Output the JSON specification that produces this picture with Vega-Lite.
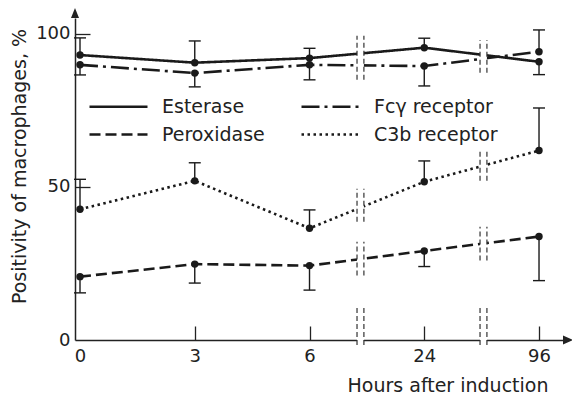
{
  "$schema": "https://vega.github.io/schema/vega-lite/v6.json",
  "width": 488,
  "height": 322,
  "autosize": {"type": "none"},
  "padding": {"left": 75, "top": 18, "right": 9, "bottom": 58},
  "background": "white",
  "config": {
    "view": {"stroke": null},
    "font": "DejaVu Sans",
    "axis": {"grid": false, "labelColor": "#222", "titleColor": "#222", "titleFontWeight": "normal", "domainColor": "#222", "domainWidth": 1.5, "tickColor": "#222", "tickWidth": 1.3, "labelFontSize": 18, "titleFontSize": 19, "labelOverlap": false, "labelBound": false, "labelFlush": false}
  },
  "datasets": {
    "series": [
      {"hours": "0", "slot": 0, "series": "Esterase", "value": 93.1, "err": 98.7},
      {"hours": "3", "slot": 1, "series": "Esterase", "value": 90.6, "err": 97.7},
      {"hours": "6", "slot": 2, "series": "Esterase", "value": 92.1, "err": 95.3},
      {"hours": "24", "slot": 3, "series": "Esterase", "value": 95.5, "err": 98.6},
      {"hours": "96", "slot": 4, "series": "Esterase", "value": 90.9, "err": 86.7},
      {"hours": "0", "slot": 0, "series": "Fcγ receptor", "value": 89.9, "err": 86.6},
      {"hours": "3", "slot": 1, "series": "Fcγ receptor", "value": 87.2, "err": 82.7},
      {"hours": "6", "slot": 2, "series": "Fcγ receptor", "value": 89.9, "err": 85.0},
      {"hours": "24", "slot": 3, "series": "Fcγ receptor", "value": 89.5, "err": 83.0},
      {"hours": "96", "slot": 4, "series": "Fcγ receptor", "value": 94.2, "err": 101.3},
      {"hours": "0", "slot": 0, "series": "Peroxidase", "value": 20.7, "err": 15.4},
      {"hours": "3", "slot": 1, "series": "Peroxidase", "value": 24.8, "err": 18.6},
      {"hours": "6", "slot": 2, "series": "Peroxidase", "value": 24.3, "err": 16.3},
      {"hours": "24", "slot": 3, "series": "Peroxidase", "value": 29.1, "err": 24.0},
      {"hours": "96", "slot": 4, "series": "Peroxidase", "value": 33.8, "err": 19.4},
      {"hours": "0", "slot": 0, "series": "C3b receptor", "value": 42.7, "err": 52.5},
      {"hours": "3", "slot": 1, "series": "C3b receptor", "value": 52.0, "err": 57.9},
      {"hours": "6", "slot": 2, "series": "C3b receptor", "value": 36.5, "err": 42.5},
      {"hours": "24", "slot": 3, "series": "C3b receptor", "value": 51.7, "err": 58.5},
      {"hours": "96", "slot": 4, "series": "C3b receptor", "value": 61.9, "err": 75.8}
    ],
    "breaks": [
      {"x1": 2.414, "x2": 2.474, "lo": 85.0, "hi": 99.4},
      {"x1": 2.414, "x2": 2.474, "lo": 38.6, "hi": 49.4},
      {"x1": 2.414, "x2": 2.474, "lo": 21.1, "hi": 32.1},
      {"x1": 2.414, "x2": 2.474, "lo": -1.6, "hi": 11.4},
      {"x1": 3.486, "x2": 3.546, "lo": 87.3, "hi": 98.0},
      {"x1": 3.486, "x2": 3.546, "lo": 52.0, "hi": 61.7},
      {"x1": 3.486, "x2": 3.546, "lo": 26.0, "hi": 37.0},
      {"x1": 3.486, "x2": 3.546, "lo": -1.6, "hi": 11.4}
    ]
  },
  "layer": [
    {
      "data": {"name": "series"},
      "mark": {"type": "line", "strokeWidth": 2.6, "color": "#1a1a1a"},
      "encoding": {
        "x": {
          "field": "slot", "type": "quantitative",
          "scale": {"domain": [-0.0436, 4.209], "nice": false, "zero": false},
          "axis": {
            "values": [0, 1, 2, 3, 4],
            "labelExpr": "['0','3','6','24','96'][datum.value]",
            "title": "Hours after induction",
            "tickSize": -14,
            "tickOpacity": {"condition": {"test": "datum.value == 0", "value": 0}, "value": 1},
            "labelPadding": 21,
            "titleX": 473, "titleY": 51, "titleAlign": "right", "titleBaseline": "alphabetic"
          }
        },
        "y": {
          "field": "value", "type": "quantitative",
          "scale": {"domain": [0, 105.2], "nice": false},
          "axis": {
            "values": [0, 50, 100],
            "title": "Positivity of macrophages, %",
            "tickSize": -15,
            "tickOpacity": {"condition": {"test": "datum.value == 0", "value": 0}, "value": 1},
            "labelPadding": 20,
            "titleX": -56, "titleY": 148, "titleAngle": 270, "titleAlign": "center", "titleBaseline": "middle"
          }
        },
        "strokeDash": {
          "field": "series", "type": "nominal",
          "scale": {"domain": ["Esterase", "Peroxidase", "Fcγ receptor", "C3b receptor"], "range": [[1, 0], [11, 5], [18, 5, 3, 5], [2.5, 3.5]]},
          "legend": {
            "title": null, "orient": "none", "legendX": 32, "legendY": 77, "columns": 2,
            "columnPadding": 31, "rowPadding": 6, "symbolType": "M-2.9,0H2.9", "symbolSize": 400,
            "symbolStrokeWidth": 2.6, "symbolStrokeColor": "#1a1a1a", "symbolFillColor": "transparent",
            "labelFontSize": 19, "labelColor": "#222", "labelOffset": 32
          }
        }
      }
    },
    {
      "data": {"name": "breaks"},
      "mark": {"type": "rect", "fill": "white"},
      "encoding": {
        "x": {"field": "x1", "type": "quantitative"},
        "x2": {"field": "x2"},
        "y": {"field": "lo", "type": "quantitative"},
        "y2": {"field": "hi"}
      }
    },
    {
      "data": {"name": "breaks"},
      "mark": {"type": "rule", "strokeWidth": 1.2, "strokeDash": [5, 3], "color": "#333"},
      "encoding": {
        "x": {"field": "x1", "type": "quantitative"},
        "y": {"field": "lo", "type": "quantitative"},
        "y2": {"field": "hi"}
      }
    },
    {
      "data": {"name": "breaks"},
      "mark": {"type": "rule", "strokeWidth": 1.2, "strokeDash": [5, 3], "color": "#333"},
      "encoding": {
        "x": {"field": "x2", "type": "quantitative"},
        "y": {"field": "lo", "type": "quantitative"},
        "y2": {"field": "hi"}
      }
    },
    {
      "data": {"name": "series"},
      "mark": {"type": "rule", "strokeWidth": 1.4, "color": "#1a1a1a"},
      "encoding": {
        "x": {"field": "slot", "type": "quantitative"},
        "y": {"field": "value", "type": "quantitative"},
        "y2": {"field": "err"}
      }
    },
    {
      "data": {"name": "series"},
      "mark": {"type": "tick", "orient": "horizontal", "size": 12, "thickness": 1.4, "color": "#1a1a1a", "opacity": 1},
      "encoding": {
        "x": {"field": "slot", "type": "quantitative"},
        "y": {"field": "err", "type": "quantitative"}
      }
    },
    {
      "data": {"name": "series"},
      "mark": {"type": "point", "filled": true, "size": 55, "color": "#1a1a1a", "opacity": 1},
      "encoding": {
        "x": {"field": "slot", "type": "quantitative"},
        "y": {"field": "value", "type": "quantitative"}
      }
    },
    {
      "data": {"values": [{}]},
      "mark": {"type": "point", "shape": "M0,-2L0.8,0L-0.8,0Z", "filled": true, "size": 100, "color": "#222", "opacity": 1},
      "encoding": {
        "x": {"datum": -0.0436},
        "y": {"datum": 105.2}
      }
    },
    {
      "data": {"values": [{}]},
      "mark": {"type": "point", "shape": "M2,0L0,-0.9L0,0.9Z", "filled": true, "size": 100, "color": "#222", "opacity": 1},
      "encoding": {
        "x": {"datum": 4.209},
        "y": {"datum": 0}
      }
    }
  ]
}
